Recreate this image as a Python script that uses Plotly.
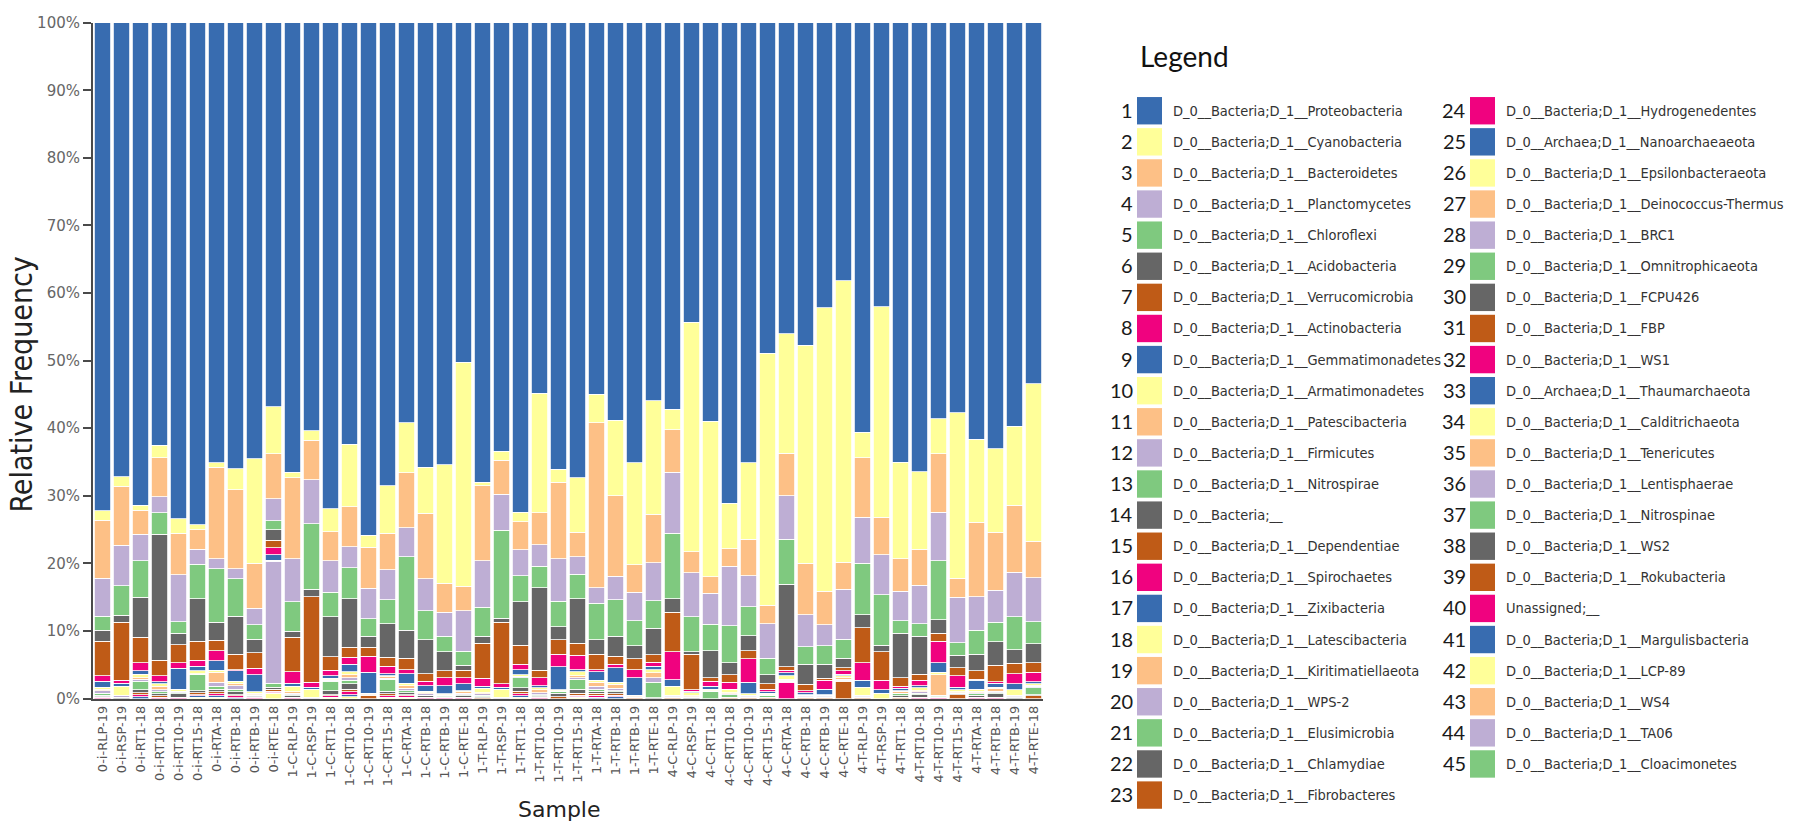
import plotly.graph_objects as go

W, H = 1807, 825

samples = [
    "0-i-RLP-19", "0-i-RSP-19", "0-i-RT1-18", "0-i-RT10-18", "0-i-RT10-19",
    "0-i-RT15-18", "0-i-RTA-18", "0-i-RTB-18", "0-i-RTB-19", "0-i-RTE-18",
    "1-C-RLP-19", "1-C-RSP-19", "1-C-RT1-18", "1-C-RT10-18", "1-C-RT10-19",
    "1-C-RT15-18", "1-C-RTA-18", "1-C-RTB-18", "1-C-RTB-19", "1-C-RTE-18",
    "1-T-RLP-19", "1-T-RSP-19", "1-T-RT1-18", "1-T-RT10-18", "1-T-RT10-19",
    "1-T-RT15-18", "1-T-RTA-18", "1-T-RTB-18", "1-T-RTB-19", "1-T-RTE-18",
    "4-C-RLP-19", "4-C-RSP-19", "4-C-RT1-18", "4-C-RT10-18", "4-C-RT10-19",
    "4-C-RT15-18", "4-C-RTA-18", "4-C-RTB-18", "4-C-RTB-19", "4-C-RTE-18",
    "4-T-RLP-19", "4-T-RSP-19", "4-T-RT1-18", "4-T-RT10-18", "4-T-RT10-19",
    "4-T-RT15-18", "4-T-RTA-18", "4-T-RTB-18", "4-T-RTB-19", "4-T-RTE-18",
]

# Relative abundance (%) per phylum, one value per sample
proteobacteria = [72.2, 67.2, 71.4, 62.5, 73.4, 74.3, 65.1, 66.0, 64.5, 56.8,
                  66.5, 60.4, 71.9, 62.2, 75.8, 68.5, 59.2, 65.8, 65.4, 50.2,
                  68.0, 63.4, 72.4, 54.8, 66.1, 67.3, 55.0, 58.8, 65.1, 55.9,
                  57.2, 44.3, 59.0, 71.1, 65.1, 48.9, 46.0, 47.7, 42.2, 38.2,
                  60.6, 42.0, 65.0, 66.4, 58.6, 57.7, 61.6, 63.0, 59.7, 53.4]
cyanobacteria = [1.4, 1.4, 0.7, 1.9, 2.1, 0.7, 0.7, 3.1, 15.5, 7.0,
                 0.8, 1.4, 3.4, 9.2, 1.8, 7.0, 7.4, 6.8, 17.5, 33.2,
                 0.5, 1.3, 1.4, 17.7, 1.9, 8.1, 4.2, 11.2, 15.1, 16.8,
                 3.0, 34.0, 23.0, 6.7, 11.3, 37.3, 17.7, 32.3, 41.9, 41.6,
                 3.8, 31.2, 14.3, 11.5, 5.2, 24.5, 12.3, 12.4, 11.7, 23.3]
bacteroidetes = [8.6, 8.7, 3.6, 5.7, 6.2, 2.9, 13.5, 11.7, 6.6, 6.6,
                 12.0, 5.8, 4.3, 5.9, 6.1, 5.4, 8.1, 9.7, 4.3, 3.6,
                 11.1, 5.1, 4.2, 4.7, 11.3, 3.6, 24.4, 11.9, 4.1, 7.2,
                 6.3, 3.1, 2.4, 2.6, 5.4, 2.7, 6.3, 7.6, 5.0, 4.0,
                 8.8, 5.5, 4.8, 5.3, 8.6, 2.8, 11.0, 8.6, 9.9, 5.4]
planctomycetes = [5.6, 6.0, 3.9, 2.4, 6.9, 2.2, 1.5, 1.5, 2.5, 3.3,
                  6.4, 6.5, 4.7, 3.1, 4.5, 4.5, 4.3, 4.7, 3.6, 6.0,
                  6.9, 5.3, 3.8, 3.2, 6.3, 2.6, 2.3, 3.5, 4.2, 5.6,
                  9.0, 6.5, 4.6, 8.8, 4.6, 5.1, 6.4, 4.7, 3.1, 7.4,
                  6.8, 5.9, 4.4, 5.7, 7.2, 6.7, 5.0, 4.7, 6.6, 6.5]
chloroflexi = [2.1, 4.4, 5.4, 3.2, 1.7, 5.1, 7.9, 5.5, 2.1, 1.3,
               4.3, 9.7, 3.6, 4.6, 2.6, 3.5, 10.9, 4.3, 2.3, 2.1,
               4.3, 13.0, 3.9, 3.2, 3.8, 3.6, 5.4, 5.4, 3.7, 4.1,
               9.7, 5.2, 3.9, 5.5, 4.3, 2.5, 6.7, 2.6, 2.7, 2.8,
               7.6, 7.5, 1.8, 1.9, 8.7, 1.9, 3.5, 2.9, 4.9, 3.3]
acidobacteria = [1.6, 1.0, 5.9, 18.6, 1.7, 6.3, 2.7, 5.6, 2.0, 1.6,
                 0.9, 1.1, 5.9, 7.1, 1.6, 5.0, 4.1, 5.0, 2.8, 0.7,
                 1.0, 0.6, 6.4, 12.2, 1.9, 6.6, 2.1, 2.9, 1.9, 3.9,
                 2.0, 0.3, 4.0, 1.8, 2.2, 1.3, 12.2, 3.0, 2.1, 1.4,
                 1.9, 1.0, 6.6, 5.6, 2.0, 1.8, 2.5, 3.5, 2.0, 2.8]
verrucomicrobia = [5.1, 8.6, 3.8, 2.3, 2.7, 2.8, 1.5, 2.3, 2.3, 1.1,
                   5.1, 12.7, 2.0, 1.5, 1.3, 1.3, 1.7, 1.1, 1.0, 1.1,
                   5.2, 9.1, 2.8, 1.1, 2.1, 1.8, 2.3, 1.2, 1.6, 1.1,
                   5.9, 5.3, 0.5, 1.1, 1.2, 0.8, 0.5, 0.9, 0.3, 0.5,
                   5.2, 4.2, 1.3, 0.9, 1.2, 1.2, 1.2, 2.4, 1.5, 1.4]
actinobacteria = [0.8, 0.4, 1.2, 0.9, 0.8, 0.9, 1.5, 0.2, 1.0, 1.0,
                  1.7, 0.7, 0.8, 1.0, 2.4, 1.1, 0.6, 0.7, 1.2, 0.9,
                  1.2, 0.5, 0.8, 1.2, 1.9, 2.1, 0.3, 0.5, 1.2, 0.6,
                  4.1, 0.2, 0.8, 1.0, 3.5, 0.4, 0.4, 0.3, 1.3, 0.5,
                  2.6, 1.4, 0.3, 0.8, 3.2, 1.7, 0.2, 0.2, 1.5, 1.4]
gemmatimonadetes = [0.9, 0.5, 0.5, 0.3, 3.1, 0.7, 1.4, 1.5, 2.5, 0.8,
                    0.5, 0.3, 0.4, 1.1, 3.1, 0.3, 1.4, 0.8, 1.2, 1.0,
                    0.3, 0.3, 0.8, 0.3, 3.4, 0.3, 1.3, 2.2, 2.6, 0.5,
                    1.0, 0.2, 0.4, 0.1, 1.7, 0.2, 0.4, 0.3, 0.8, 0.2,
                    1.0, 0.5, 0.3, 0.3, 1.4, 0.4, 1.3, 0.6, 0.9, 0.3]
armatimonadetes = [0.3, 1.3, 0.5, 0.4, 0.3, 0.4, 0.3, 0.4, 0.2, 0.1,
                   0.8, 1.2, 0.2, 0.5, 0.1, 0.2, 0.4, 0.2, 0.1, 0.2,
                   0.6, 1.2, 0.2, 0.3, 0.1, 0.6, 0.3, 0.3, 0.1, 0.5,
                   1.3, 0.5, 0.2, 0.4, 0.2, 0.2, 0.5, 0.1, 0.1, 0.3,
                   1.2, 0.8, 0.1, 0.4, 0.4, 0.3, 0.3, 0.2, 0.8, 0.2]
patescibacteria = [0.2, 0.1, 0.2, 0.5, 0.1, 0.1, 1.5, 0.3, 0.2, 0.1,
                   0.2, 0.1, 0.1, 0.4, 0.1, 0.2, 0.4, 0.2, 0.1, 0.2,
                   0.2, 0.1, 0.1, 0.4, 0.1, 0.3, 0.6, 0.6, 0.1, 0.7,
                   0.1, 0.1, 0.1, 0.2, 0.1, 0.1, 0.1, 0.1, 0.1, 0.2,
                   0.1, 0.0, 0.3, 0.2, 3.0, 0.1, 0.2, 0.4, 0.1, 0.2]
firmicutes = [0.4, 0.2, 0.3, 0.3, 0.1, 0.1, 0.6, 0.5, 0.1, 18.0,
              0.2, 0.1, 0.1, 0.4, 0.0, 0.1, 0.3, 0.2, 0.1, 0.2,
              0.2, 0.1, 0.1, 0.3, 0.1, 0.2, 0.4, 0.3, 0.1, 0.7,
              0.1, 0.1, 0.1, 0.1, 0.1, 0.1, 0.1, 0.1, 0.1, 0.1,
              0.1, 0.0, 0.1, 0.2, 0.1, 0.1, 0.2, 0.2, 0.1, 0.2]
nitrospirae = [0.3, 0.1, 1.3, 0.3, 0.2, 2.3, 0.4, 0.4, 0.1, 0.6,
               0.2, 0.0, 1.4, 0.5, 0.0, 1.8, 0.3, 0.1, 0.1, 0.2,
               0.2, 0.0, 1.5, 0.2, 0.2, 1.5, 0.3, 0.2, 0.0, 2.3,
               0.1, 0.1, 1.0, 0.4, 0.1, 0.2, 0.1, 0.1, 0.1, 0.1,
               0.1, 0.0, 0.3, 0.2, 0.1, 0.1, 0.2, 0.2, 0.1, 1.0]
bacteria_unclassified = [0.2, 0.1, 0.4, 0.3, 0.5, 0.3, 0.4, 0.4, 0.1, 0.3,
                         0.2, 0.0, 0.6, 0.8, 0.1, 0.4, 0.3, 0.2, 0.1, 0.2,
                         0.2, 0.0, 0.5, 0.1, 0.5, 0.6, 0.3, 0.3, 0.1, 0.1,
                         0.1, 0.1, 0.0, 0.1, 0.1, 0.1, 0.1, 0.1, 0.1, 0.1,
                         0.1, 0.0, 0.2, 0.4, 0.1, 0.1, 0.3, 0.5, 0.2, 0.2]
dependentiae = [0.1, 0.0, 0.3, 0.2, 0.1, 0.3, 0.3, 0.2, 0.1, 0.3,
                0.1, 0.0, 0.2, 0.4, 0.5, 0.3, 0.2, 0.1, 0.1, 0.1,
                0.1, 0.0, 0.4, 0.1, 0.3, 0.3, 0.3, 0.2, 0.1, 0.0,
                0.1, 0.0, 0.0, 0.1, 0.1, 0.1, 0.1, 0.1, 0.1, 2.6,
                0.1, 0.0, 0.2, 0.1, 0.1, 0.6, 0.1, 0.1, 0.0, 0.4]
spirochaetes = [0.2, 0.0, 0.3, 0.2, 0.1, 0.2, 0.3, 0.3, 0.2, 0.2,
                0.1, 0.0, 0.2, 0.4, 0.0, 0.2, 0.2, 0.1, 0.1, 0.1,
                0.0, 0.0, 0.3, 0.2, 0.0, 0.2, 0.3, 0.2, 0.0, 0.0,
                0.0, 0.0, 0.0, 0.0, 0.0, 0.0, 2.4, 0.0, 0.0, 0.0,
                0.0, 0.0, 0.0, 0.1, 0.1, 0.0, 0.1, 0.1, 0.0, 0.0]
zixibacteria = [0.0, 0.0, 0.3, 0.0, 0.0, 0.2, 0.2, 0.1, 0.0, 0.1,
                0.0, 0.0, 0.1, 0.3, 0.0, 0.1, 0.1, 0.0, 0.0, 0.0,
                0.0, 0.0, 0.2, 0.0, 0.0, 0.1, 0.2, 0.3, 0.0, 0.0,
                0.0, 0.0, 0.0, 0.0, 0.0, 0.0, 0.0, 0.0, 0.0, 0.0,
                0.0, 0.0, 0.0, 0.0, 0.0, 0.0, 0.0, 0.0, 0.0, 0.0]
latescibacteria = [0.0, 0.0, 0.0, 0.0, 0.0, 0.2, 0.2, 0.0, 0.0, 0.8,
                   0.0, 0.0, 0.1, 0.3, 0.0, 0.1, 0.1, 0.0, 0.0, 0.0,
                   0.0, 0.0, 0.2, 0.0, 0.0, 0.2, 0.0, 0.0, 0.0, 0.0,
                   0.0, 0.0, 0.0, 0.0, 0.0, 0.0, 0.0, 0.0, 0.0, 0.0,
                   0.0, 0.0, 0.0, 0.0, 0.0, 0.0, 0.0, 0.0, 0.0, 0.0]

taxa_names = [
    "D_0__Bacteria;D_1__Proteobacteria", "D_0__Bacteria;D_1__Cyanobacteria",
    "D_0__Bacteria;D_1__Bacteroidetes", "D_0__Bacteria;D_1__Planctomycetes",
    "D_0__Bacteria;D_1__Chloroflexi", "D_0__Bacteria;D_1__Acidobacteria",
    "D_0__Bacteria;D_1__Verrucomicrobia", "D_0__Bacteria;D_1__Actinobacteria",
    "D_0__Bacteria;D_1__Gemmatimonadetes", "D_0__Bacteria;D_1__Armatimonadetes",
    "D_0__Bacteria;D_1__Patescibacteria", "D_0__Bacteria;D_1__Firmicutes",
    "D_0__Bacteria;D_1__Nitrospirae", "D_0__Bacteria;__",
    "D_0__Bacteria;D_1__Dependentiae", "D_0__Bacteria;D_1__Spirochaetes",
    "D_0__Bacteria;D_1__Zixibacteria", "D_0__Bacteria;D_1__Latescibacteria",
    "D_0__Bacteria;D_1__Kiritimatiellaeota", "D_0__Bacteria;D_1__WPS-2",
    "D_0__Bacteria;D_1__Elusimicrobia", "D_0__Bacteria;D_1__Chlamydiae",
    "D_0__Bacteria;D_1__Fibrobacteres", "D_0__Bacteria;D_1__Hydrogenedentes",
    "D_0__Archaea;D_1__Nanoarchaeaeota", "D_0__Bacteria;D_1__Epsilonbacteraeota",
    "D_0__Bacteria;D_1__Deinococcus-Thermus", "D_0__Bacteria;D_1__BRC1",
    "D_0__Bacteria;D_1__Omnitrophicaeota", "D_0__Bacteria;D_1__FCPU426",
    "D_0__Bacteria;D_1__FBP", "D_0__Bacteria;D_1__WS1",
    "D_0__Archaea;D_1__Thaumarchaeota", "D_0__Bacteria;D_1__Calditrichaeota",
    "D_0__Bacteria;D_1__Tenericutes", "D_0__Bacteria;D_1__Lentisphaerae",
    "D_0__Bacteria;D_1__Nitrospinae", "D_0__Bacteria;D_1__WS2",
    "D_0__Bacteria;D_1__Rokubacteria", "Unassigned;__",
    "D_0__Bacteria;D_1__Margulisbacteria", "D_0__Bacteria;D_1__LCP-89",
    "D_0__Bacteria;D_1__WS4", "D_0__Bacteria;D_1__TA06",
    "D_0__Bacteria;D_1__Cloacimonetes",
]

palette = ["#386CB0", "#FFFF99", "#FDC086", "#BEAED4",
           "#7FC97F", "#666666", "#BF5B17", "#F0027F"]

y_ticks = [0, 10, 20, 30, 40, 50, 60, 70, 80, 90, 100]

# taxa with measurable abundance, in legend order (taxon 1 first)
series = [proteobacteria, cyanobacteria, bacteroidetes, planctomycetes,
          chloroflexi, acidobacteria, verrucomicrobia, actinobacteria,
          gemmatimonadetes, armatimonadetes, patescibacteria, firmicutes,
          nitrospirae, bacteria_unclassified, dependentiae, spirochaetes,
          zixibacteria, latescibacteria]


def px(x):
    return x / W


def py(y):
    return 1 - y / H


fig = go.Figure()

# stack from the last taxon at the bottom up to Proteobacteria on top
for i in reversed(range(len(series))):
    fig.add_trace(go.Bar(
        x=samples, y=series[i], name=taxa_names[i],
        marker=dict(color=palette[i % len(palette)],
                    line=dict(color="white", width=0.8)),
        showlegend=False,
    ))

axis_color = "#4a4a4a"
tick_font = dict(family="DejaVu Sans, Verdana, sans-serif", size=13, color="#555555")

fig.update_layout(
    width=W, height=H,
    margin=dict(l=0, r=0, t=0, b=0),
    paper_bgcolor="white", plot_bgcolor="white",
    barmode="stack", barnorm="percent", bargap=0.12,
    showlegend=False,
    xaxis=dict(
        domain=[px(93), px(1043)],
        tickangle=-90, tickfont=tick_font,
        showline=True, linecolor=axis_color, linewidth=2,
        ticks="", showgrid=False, zeroline=False,
    ),
    yaxis=dict(
        domain=[py(705), py(14)],
        range=[0, 100], tickvals=y_ticks,
        ticktext=[f"{v}%" for v in y_ticks],
        tickfont=dict(family="DejaVu Sans, Verdana, sans-serif", size=15, color="#666666"),
        showline=True, linecolor=axis_color, linewidth=2,
        ticks="outside", ticklen=8, tickwidth=1.5, tickcolor=axis_color,
        showgrid=False, zeroline=False,
    ),
)

annotations = [
    dict(text="Relative Frequency", x=px(22), y=py(384), xref="paper", yref="paper",
         textangle=-90, showarrow=False, xanchor="center", yanchor="middle",
         font=dict(family="Liberation Sans Narrow, DejaVu Sans Condensed, sans-serif",
                   size=30, color="#222222")),
    dict(text="Sample", x=px(559), y=py(818), xref="paper", yref="paper",
         showarrow=False, xanchor="center", yanchor="middle",
         font=dict(family="DejaVu Sans, Verdana, sans-serif", size=22, color="#222222")),
    dict(text="Legend", x=px(1138), y=py(48), xref="paper", yref="paper",
         showarrow=False, xanchor="left", yanchor="middle",
         font=dict(family="Lato, Open Sans, sans-serif", size=28, color="#111111")),
]
shapes = []

# legend: two columns of numbered colour swatches
row0, pitch = 104.0, 31.8
columns = [dict(num_right=1135, sw_left=1137, text_left=1171, rows=23),
           dict(num_right=1468, sw_left=1470, text_left=1504, rows=22)]
k = 0
for col in columns:
    for r in range(col["rows"]):
        if k >= len(taxa_names):
            break
        yc = row0 + pitch * r
        shapes.append(dict(type="rect", xref="paper", yref="paper",
                           x0=px(col["sw_left"]), x1=px(col["sw_left"] + 25),
                           y0=py(yc + 14), y1=py(yc - 14),
                           fillcolor=palette[k % len(palette)], line=dict(width=0)))
        annotations.append(dict(text=str(k + 1), x=px(col["num_right"]), y=py(yc - 1),
                                xref="paper", yref="paper", showarrow=False,
                                xanchor="right", yanchor="middle",
                                font=dict(family="Lato, Open Sans, sans-serif",
                                          size=20, color="#1a1a1a")))
        annotations.append(dict(text=taxa_names[k], x=px(col["text_left"]), y=py(yc),
                                xref="paper", yref="paper", showarrow=False,
                                xanchor="left", yanchor="middle",
                                font=dict(family="DejaVu Sans Condensed, DejaVu Sans, sans-serif",
                                          size=14.5, color="#333333")))
        k += 1

fig.update_layout(annotations=annotations, shapes=shapes)

fig.write_html("out.html")
